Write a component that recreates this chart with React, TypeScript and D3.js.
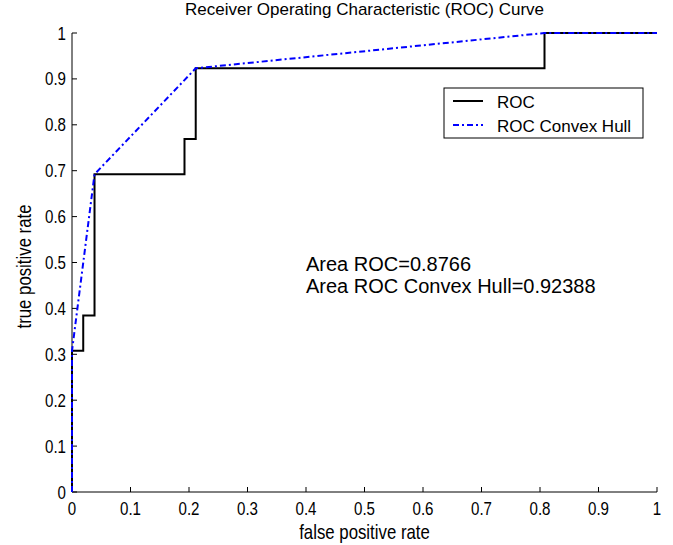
import React from "react";
import * as d3 from "d3";

const rocFpr = [0, 0, 0.0192, 0.0192, 0.0385, 0.0385, 0.1923, 0.1923, 0.2115, 0.2115, 0.8077, 0.8077, 1];
const rocTpr = [0, 0.3077, 0.3077, 0.3846, 0.3846, 0.6923, 0.6923, 0.7692, 0.7692, 0.9231, 0.9231, 1, 1];
const hullFpr = [0, 0, 0.0385, 0.2115, 0.8077, 1];
const hullTpr = [0, 0.3077, 0.6923, 0.9231, 1, 1];
const xTicks = [0, 0.1, 0.2, 0.3, 0.4, 0.5, 0.6, 0.7, 0.8, 0.9, 1];
const yTicks = [0, 0.1, 0.2, 0.3, 0.4, 0.5, 0.6, 0.7, 0.8, 0.9, 1];
const seriesNames = ["ROC", "ROC Convex Hull"];
const annotations = ["Area ROC=0.8766", "Area ROC Convex Hull=0.92388"];
const title = "Receiver Operating Characteristic (ROC) Curve";

const W = 673, H = 545;
const X0 = 72, X1 = 657, Y0 = 492, Y1 = 33;
const FONT = "'Liberation Sans', Arial, sans-serif";
const NARROW = 0.84;

export default function App() {
  const x = d3.scaleLinear().domain([0, 1]).range([X0, X1]);
  const y = d3.scaleLinear().domain([0, 1]).range([Y0, Y1]);
  const line = d3.line<[number, number]>().x(d => x(d[0])).y(d => y(d[1]));
  const roc = line(rocFpr.map((v, i) => [v, rocTpr[i]] as [number, number])) || "";
  const hull = line(hullFpr.map((v, i) => [v, hullTpr[i]] as [number, number])) || "";
  const fmt = (v: number) => (v === 0 || v === 1 ? String(v) : String(+v.toFixed(1)));
  const dash = "6,3,2,3";
  return (
    <svg width={W} height={H} style={{ position: "absolute", left: 0, top: 0, background: "#fff" }}
      fontFamily={FONT}>
      <rect x={0} y={0} width={W} height={H} fill="#fff" />
      <text x={x(0.5)} y={15} textAnchor="middle" fontSize={17} fill="#000">{title}</text>
      {/* axes */}
      <line x1={X0} y1={Y0} x2={X1} y2={Y0} stroke="#000" strokeWidth={1} />
      <line x1={X0} y1={Y0} x2={X0} y2={Y1} stroke="#000" strokeWidth={1} />
      {xTicks.map(t => (
        <g key={"x" + t}>
          <line x1={x(t)} x2={x(t)} y1={Y0} y2={Y0 - 5} stroke="#000" />
          <text transform={`translate(${x(t)},515) scale(${NARROW},1)`} textAnchor="middle" fontSize={18} fill="#000">{fmt(t)}</text>
        </g>
      ))}
      {yTicks.map(t => (
        <g key={"y" + t}>
          <line x1={X0} x2={X0 + 5} y1={y(t)} y2={y(t)} stroke="#000" />
          <text transform={`translate(66,${y(t) + 6.5}) scale(${NARROW},1)`} textAnchor="end" fontSize={18} fill="#000">{fmt(t)}</text>
        </g>
      ))}
      <text transform={`translate(${x(0.5)},539) scale(${NARROW},1)`} textAnchor="middle" fontSize={20} fill="#000">false positive rate</text>
      <text transform={`translate(31,${y(0.5) + 4}) rotate(-90) scale(${NARROW},1)`} textAnchor="middle" fontSize={20} fill="#000">true positive rate</text>
      {/* series */}
      <path d={roc} fill="none" stroke="#000" strokeWidth={2} />
      <path d={hull} fill="none" stroke="#0000ff" strokeWidth={2} strokeDasharray={dash} />
      {/* legend */}
      <rect x={444} y={88} width={199} height={50} fill="#fff" stroke="#000" strokeWidth={1} />
      <line x1={453} x2={483} y1={101} y2={101} stroke="#000" strokeWidth={2} />
      <text x={497} y={108} fontSize={17} fill="#000">{seriesNames[0]}</text>
      <line x1={453} x2={483} y1={125} y2={125} stroke="#0000ff" strokeWidth={2} strokeDasharray={dash} />
      <text x={497} y={132} fontSize={17} fill="#000">{seriesNames[1]}</text>
      {/* annotations */}
      <text x={306} y={271} fontSize={20} fill="#000">{annotations[0]}</text>
      <text x={306} y={293} fontSize={20} fill="#000">{annotations[1]}</text>
    </svg>
  );
}
